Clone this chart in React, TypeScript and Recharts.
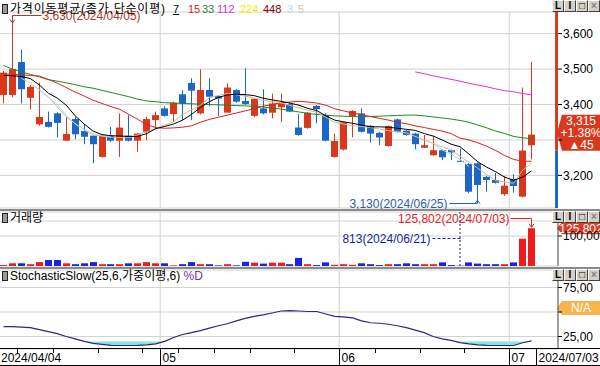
import React from "react";
import {
  ComposedChart,
  Bar,
  Line,
  Area,
  XAxis,
  YAxis,
  CartesianGrid,
  ReferenceLine,
  ReferenceDot,
  ReferenceArea,
} from "recharts";

const dates = [
  "2024/04/04", "2024/04/05", "2024/04/08", "2024/04/09", "2024/04/11", "2024/04/12", "2024/04/15", "2024/04/16",
  "2024/04/17", "2024/04/18", "2024/04/19", "2024/04/22", "2024/04/23", "2024/04/24", "2024/04/25", "2024/04/26",
  "2024/04/29", "2024/04/30", "2024/05/02", "2024/05/03", "2024/05/07", "2024/05/08", "2024/05/09", "2024/05/10",
  "2024/05/13", "2024/05/14", "2024/05/16", "2024/05/17", "2024/05/20", "2024/05/21", "2024/05/22", "2024/05/23",
  "2024/05/24", "2024/05/27", "2024/05/28", "2024/05/29", "2024/05/30", "2024/05/31", "2024/06/03", "2024/06/04",
  "2024/06/05", "2024/06/07", "2024/06/10", "2024/06/11", "2024/06/12", "2024/06/13", "2024/06/14", "2024/06/17",
  "2024/06/18", "2024/06/19", "2024/06/20", "2024/06/21", "2024/06/24", "2024/06/25", "2024/06/26", "2024/06/27",
  "2024/06/28", "2024/07/01", "2024/07/02", "2024/07/03",
];

const opens = [
  3427, 3427, 3520, 3419, 3344, 3351, 3375, 3298, 3359, 3325, 3312, 3252, 3312, 3298, 3312, 3298,
  3323, 3356, 3389, 3373, 3429, 3461, 3375, 3441, 3424, 3377, 3441, 3410, 3368, 3389, 3377, 3392,
  3401, 3335, 3334, 3396, 3370, 3252, 3273, 3367, 3375, 3340, 3320, 3283, 3358, 3326, 3318, 3278,
  3257, 3271, 3271, 3241, 3232, 3234, 3196, 3187, 3147, 3190, 3140, 3285,
];
const highs = [
  3495, 3630, 3555, 3455, 3462, 3380, 3378, 3365, 3365, 3345, 3313, 3315, 3337, 3375, 3370, 3320,
  3365, 3380, 3395, 3408, 3441, 3474, 3499, 3474, 3426, 3460, 3443, 3502, 3418, 3443, 3431, 3431,
  3405, 3373, 3379, 3398, 3375, 3318, 3352, 3384, 3389, 3342, 3322, 3341, 3360, 3328, 3320, 3314,
  3312, 3273, 3273, 3276, 3234, 3236, 3198, 3207, 3198, 3203, 3448, 3520,
];
const lows = [
  3403, 3420, 3403, 3386, 3340, 3335, 3307, 3298, 3302, 3288, 3234, 3250, 3295, 3252, 3296, 3267,
  3300, 3333, 3366, 3351, 3356, 3356, 3372, 3395, 3368, 3377, 3405, 3399, 3365, 3372, 3361, 3351,
  3378, 3312, 3332, 3347, 3296, 3250, 3270, 3307, 3321, 3293, 3285, 3281, 3321, 3312, 3274, 3277,
  3255, 3243, 3243, 3240, 3149, 3130, 3154, 3177, 3142, 3151, 3138, 3245,
];
const closes = [
  3490, 3500, 3443, 3450, 3365, 3337, 3348, 3317, 3316, 3309, 3288, 3312, 3298, 3335, 3298, 3318,
  3359, 3370, 3368, 3405, 3403, 3439, 3441, 3422, 3417, 3448, 3408, 3401, 3416, 3375, 3403, 3403,
  3380, 3314, 3377, 3387, 3298, 3297, 3350, 3382, 3323, 3318, 3307, 3339, 3323, 3314, 3288, 3285,
  3271, 3251, 3265, 3240, 3154, 3173, 3187, 3179, 3171, 3170, 3270, 3315,
];
const volumes = [
  3000, 9000, 9000, 6000, 13000, 20000, 20000, 9000, 6000, 9000, 13000, 6000, 6000, 6000, 9000, 9000,
  13000, 9000, 9000, 2000, 6000, 13000, 6000, 6000, 2000, 6000, 2000, 14000, 11000, 8000, 11000, 11000,
  6000, 27000, 6000, 3000, 12000, 4000, 6000, 4000, 9000, 6000, 3000, 6000, 6000, 9000, 6000, 6000,
  6000, 12000, 3000, 813, 12000, 8000, 6000, 6000, 6000, 12000, 91000, 125802,
];

// moving averages as drawn on the chart (7 / 15 / 33 / 112 / 3 / 5)
const ma7 = [
  3482, 3481, 3479, 3473, 3455, 3432, 3418, 3398, 3368, 3345, 3325, 3315, 3312, 3311, 3310, 3310,
  3318, 3332, 3338, 3345, 3356, 3372, 3392, 3408, 3420, 3427, 3429, 3428, 3425, 3418, 3413, 3409,
  3404, 3398, 3389, 3383, 3368, 3356, 3351, 3347, 3342, 3337, 3337, 3336, 3333, 3330, 3327, 3318,
  3311, 3300, 3288, 3281, 3260, 3238, 3223, 3210, 3195, 3186, 3195, 3213,
];
const ma15 = [
  3486, 3485, 3484, 3482, 3480, 3471, 3460, 3448, 3435, 3424, 3412, 3403, 3394, 3386, 3372, 3358,
  3343, 3335, 3333, 3334, 3336, 3340, 3350, 3358, 3364, 3370, 3376, 3382, 3388, 3395, 3400, 3405,
  3407, 3409, 3407, 3404, 3398, 3388, 3382, 3376, 3371, 3366, 3361, 3356, 3350, 3346, 3340, 3335,
  3330, 3325, 3318, 3305, 3300, 3292, 3282, 3270, 3256, 3245, 3240, 3240,
];
const ma33 = [
  3510, 3500, 3492, 3485, 3478, 3470, 3466, 3461, 3456, 3450, 3446, 3440, 3434, 3428, 3422, 3415,
  3410, 3408, 3405, 3404, 3403, 3402, 3401, 3400, 3399, 3398, 3397, 3396, 3395, 3393, 3390, 3387,
  3383, 3379, 3375, 3372, 3370, 3368, 3367, 3366, 3365, 3366, 3367, 3368, 3369, 3370, 3370, 3368,
  3365, 3362, 3359, 3355, 3350, 3342, 3334, 3325, 3318, 3310, 3306, 3304,
];
const ma112 = [
  null, null, null, null, null, null, null, null, null, null, null, null, null, null, null, null,
  null, null, null, null, null, null, null, null, null, null, null, null, null, null, null, null,
  null, null, null, null, null, null, null, null, null, null, null, null, null, null, 3492, 3487,
  3481, 3476, 3471, 3466, 3460, 3455, 3450, 3444, 3439, 3436, 3431, 3427,
];
const ma3 = [
  null, null, 3474, 3460, 3441, 3420, 3400, 3370, 3345, 3330, 3318, 3312, 3308, null, null, null,
  null, null, null, null, null, null, null, null, null, null, null, null, null, null, null, null,
  null, null, null, null, null, null, null, null, null, null, null, null, null, null, null, null,
  3290, 3272, 3260, 3245, 3225, null, null, null, null, null, null, null,
];
const ma5 = [
  null, null, null, 3460, null, 3422, null, 3365, null, 3328, 3314, null, 3308, null, 3306, null,
  3323, null, null, 3351, 3372, null, 3398, 3420, null, 3431, null, 3424, null, 3412, null, 3405,
  null, 3390, null, 3378, null, 3350, null, 3340, null, 3335, null, 3326, null, 3320, null, 3300,
  null, null, 3271, null, null, 3220, null, 3185, null, 3178, 3215, 3234,
];

const stochD = [
  35, 35, 34.5, 34, 32, 30, 28, 25, 22.5, 20, 18, 17, 16, 15.8, 15.8, 16,
  16.5, 17.5, 20, 24, 27, 29, 31, 33.5, 36, 38, 41, 43.5, 45.5, 47, 49, 51,
  51.5, 51, 50.5, 50.5, 48, 45.5, 45, 44, 41, 39, 38.5, 37.5, 36, 34, 31.5, 29,
  25, 22.5, 21, 18.8, 17.5, 16.5, 16, 15.8, 15.8, 15.8, 18.6, 20.6,
];

const priceTicks = [3200, 3300, 3400, 3500, 3600];
const volumeTicks = [50000, 100000, 150000];
const stochTicks = [25, 50, 75];
const maLegend = [
  { label: "7", color: "#000000", left: 173 },
  { label: "15", color: "#e0201e", left: 188 },
  { label: "33", color: "#1d8a1d", left: 202 },
  { label: "112", color: "#e030e0", left: 217 },
  { label: "224", color: "#f0f000", left: 240 },
  { label: "448", color: "#800000", left: 263 },
  { label: "3", color: "#a8dcec", left: 287 },
  { label: "5", color: "#dcc4a4", left: 298 },
];

const X_DOMAIN: [number, number] = [-0.4, 61.95];
const PRICE_DOMAIN: [number, number] = [3108, 3661];
const UP = "#d9381c";
const DOWN = "#1b66c6";
const VOL_UP = "#ee1c1c";
const VOL_DOWN = "#1c22e4";
const GRID = "#d2d2d2";
const SANS = "'Liberation Sans', Arial, sans-serif";
const KR = "'Liberation Sans', 'Noto Sans CJK KR', sans-serif";

const fmt = (v: number) => String(v).replace(/\B(?=(\d{3})+(?!\d))/g, ",");

const rows = dates.map((date, i) => ({
  i,
  date,
  open: opens[i],
  high: highs[i],
  low: lows[i],
  close: closes[i],
  range: [lows[i], highs[i]],
  volume: volumes[i],
  ma3: ma3[i],
  ma5: ma5[i],
  ma7: ma7[i],
  ma15: ma15[i],
  ma33: ma33[i],
  ma112: ma112[i],
  stoch: stochD[i],
  stochBand: [Math.min(stochD[i], 20), 20],
}));

const days = dates.map((d) => new Date(d.replace(/\//g, "-") + "T00:00:00Z").getUTCDay());
const monthStarts = dates
  .map((_, i) => i)
  .filter((i) => i > 0 && dates[i].slice(5, 7) !== dates[i - 1].slice(5, 7))
  .map((i) => i - 0.5);
const weekStarts = dates
  .map((_, i) => i)
  .filter((i) => i > 0 && days[i] < days[i - 1])
  .map((i) => i - 0.5);
const last = dates.length - 1;
const dateTicks = [X_DOMAIN[0], ...Array.from(new Set([...weekStarts, ...monthStarts])).sort((a, b) => a - b), last + 0.5];

const hiIdx = highs.indexOf(Math.max(...highs));
const loIdx = lows.indexOf(Math.min(...lows));
const vMaxIdx = volumes.indexOf(Math.max(...volumes));
const vMinIdx = volumes.indexOf(Math.min(...volumes));
const prevClose = closes[last - 1];
const change = closes[last] - prevClose;
const pct = ((change / prevClose) * 100).toFixed(2);

function Candle(props: any) {
  const { x, y, width, height, payload } = props;
  if (!payload || height == null) return null;
  const { open, close, high, low } = payload;
  const color = close >= open ? UP : DOWN;
  const k = height / (high - low);
  const top = y + (high - Math.max(open, close)) * k;
  const bot = y + (high - Math.min(open, close)) * k;
  const cx = Math.floor(x + width / 2) + 0.5;
  return (
    <g>
      <line x1={cx} x2={cx} y1={y} y2={y + height} stroke={color} strokeWidth={1} />
      <rect x={Math.round(x)} y={top} width={Math.round(width)} height={Math.max(1, bot - top)} fill={color} />
    </g>
  );
}

function VolBar(props: any) {
  const { x, y, width, height, payload } = props;
  if (!payload) return null;
  const color = payload.close >= payload.open ? VOL_UP : VOL_DOWN;
  return <rect x={Math.round(x)} y={y} width={Math.round(width)} height={Math.max(0, height)} fill={color} />;
}

const center = (vb: any) => ({ cx: vb.x + vb.width / 2, cy: vb.y + vb.height / 2 });

function HighNote(p: any) {
  const { cx, cy } = center(p.viewBox);
  const c = "#b03a2a";
  const lx = Math.floor(cx) + 0.5;
  const ly = Math.round(cy) - 7.5;
  return (
    <g>
      <path d={`M${lx + 29},${ly} H${lx} V${cy}`} stroke={c} fill="none" />
      <path d={`M${lx - 2.5},${cy - 3.5} L${lx},${cy} L${lx + 2.5},${cy - 3.5}`} stroke={c} fill="none" />
      <text x={lx + 30} y={ly + 4.5} fill={c} fontSize={12} fontFamily={SANS}>
        {`${fmt(highs[hiIdx])}(${dates[hiIdx]})`}
      </text>
    </g>
  );
}

function LowNote(p: any) {
  const { cx, cy } = center(p.viewBox);
  const c = "#2c5cb4";
  const lx = Math.floor(cx) + 0.5;
  const ly = Math.round(cy) + 3.5;
  return (
    <g>
      <path d={`M${lx - 28},${ly} H${lx} V${cy}`} stroke={c} fill="none" />
      <path d={`M${lx - 2.5},${cy + 3.5} L${lx},${cy} L${lx + 2.5},${cy + 3.5}`} stroke={c} fill="none" />
      <text x={lx - 30} y={ly + 4} fill={c} fontSize={12} fontFamily={SANS} textAnchor="end">
        {`${fmt(lows[loIdx])}(${dates[loIdx]})`}
      </text>
    </g>
  );
}

function VolMaxNote(p: any) {
  const { cx, cy } = center(p.viewBox);
  const c = "#e02424";
  const lx = Math.floor(cx) + 0.5;
  const ly = Math.round(cy) - 9.5;
  return (
    <g>
      <path d={`M${lx - 21},${ly} H${lx} V${cy - 1}`} stroke={c} fill="none" />
      <path d={`M${lx - 2.5},${cy - 4.5} L${lx},${cy - 1} L${lx + 2.5},${cy - 4.5}`} stroke={c} fill="none" />
      <text x={lx - 22} y={ly + 4.5} fill={c} fontSize={12} fontFamily={SANS} textAnchor="end">
        {`${fmt(volumes[vMaxIdx])}(${dates[vMaxIdx]})`}
      </text>
    </g>
  );
}

function VolMinNote(p: any) {
  const { cx, cy } = center(p.viewBox);
  const c = "#1c1ca8";
  const lx = Math.floor(cx) + 0.5;
  const ly = Math.round(cy) - 27.5;
  return (
    <g>
      <path d={`M${lx - 28},${ly} H${lx}`} stroke={c} strokeDasharray="3 2" fill="none" />
      <text x={lx - 30} y={ly + 4.5} fill={c} fontSize={12} fontFamily={SANS} textAnchor="end">
        {`${fmt(volumes[vMinIdx])}(${dates[vMinIdx]})`}
      </text>
    </g>
  );
}

function Tag(p: any, color: string, lines: string[], half: number, dy = 0) {
  const vb = p.viewBox;
  const x0 = vb.x + vb.width - 1;
  const y = vb.y + dy;
  const pts = `${x0},${y} ${x0 + 5},${y - half} 600,${y - half} 600,${y + half} ${x0 + 5},${y + half}`;
  const step = 12;
  const start = y - ((lines.length - 1) * step) / 2;
  return (
    <g>
      <polygon points={pts} fill={color} />
      {lines.map((t, k) => (
        <text key={k} x={581} y={start + k * step + 4.5} fill="#fff" fontSize={12} fontFamily={SANS} textAnchor="middle">
          {t}
        </text>
      ))}
    </g>
  );
}

function DateTick(props: any) {
  const { x, y, payload } = props;
  const v = payload.value;
  const px = Math.round(x) + 0.5;
  const style = { fontSize: 12, fontFamily: SANS, fill: "#000" };
  if (v <= X_DOMAIN[0]) {
    return (
      <text x={1} y={y + 13} {...style}>
        {dates[0]}
      </text>
    );
  }
  if (v === last + 0.5) {
    return (
      <g>
        <line x1={px} x2={px} y1={y} y2={y + 17} stroke="#000" />
        <text x={px + 2} y={y + 13} {...style}>
          {dates[last]}
        </text>
      </g>
    );
  }
  if (monthStarts.includes(v)) {
    const idx = v + 0.5;
    return (
      <g>
        <line x1={px} x2={px} y1={y} y2={y + 17} stroke="#000" />
        <text x={px + 2} y={y + 13} {...style}>
          {dates[idx].slice(5, 7)}
        </text>
      </g>
    );
  }
  return <line x1={px} x2={px} y1={y} y2={y + 4} stroke="#000" />;
}

function Buttons({ top }: { top: number }) {
  const glyphs = ["L", "I", "□", "×"];
  return (
    <div style={{ position: "absolute", left: 552, top, display: "flex" }}>
      {glyphs.map((g, k) => (
        <div
          key={k}
          style={{
            width: 10,
            height: 10,
            border: "1px solid",
            borderColor: "#ffffff #404040 #404040 #ffffff",
            background: "#d4d0c8",
            fontSize: 10,
            lineHeight: "10px",
            textAlign: "center",
            fontFamily: SANS,
            fontWeight: "bold",
            color: k === 3 ? "#808080" : "#000",
          }}
        >
          {g}
        </div>
      ))}
    </div>
  );
}

const Icon = () => (
  <span
    style={{
      display: "inline-block",
      width: 4,
      height: 8,
      background: "#9a9a9a",
      border: "1px solid #222",
      marginRight: 2,
      verticalAlign: -1,
    }}
  />
);

const titleStyle: React.CSSProperties = {
  position: "absolute",
  left: 2,
  fontSize: 12,
  fontFamily: KR,
  color: "#000",
  whiteSpace: "nowrap",
  lineHeight: "14px",
};

const tickStyle = { fill: "#000", fontSize: 12, fontFamily: SANS };

export default function App() {
  return (
    <div style={{ position: "absolute", left: 0, top: 0, width: 600, height: 366, background: "#fff", overflow: "hidden" }}>
      {/* price panel */}
      <div style={{ position: "absolute", left: 0, top: 0 }}>
        <ComposedChart width={600} height={210} data={rows} margin={{ top: 12, right: 0, bottom: 2, left: 0 }}>
          <CartesianGrid vertical={false} stroke={GRID} />
          <XAxis dataKey="i" type="number" domain={X_DOMAIN} allowDataOverflow hide />
          <YAxis
            orientation="right"
            width={42}
            domain={PRICE_DOMAIN}
            allowDataOverflow
            ticks={priceTicks}
            axisLine={false}
            tickLine={{ stroke: "#000" }}
            tickSize={4}
            tickMargin={1}
            tick={tickStyle}
            tickFormatter={(v: number) => (v === 3300 ? "" : fmt(v))}
          />
          {monthStarts.map((m) => (
            <ReferenceLine key={m} x={m} stroke={GRID} />
          ))}
          <ReferenceArea x1={61.62} x2={X_DOMAIN[1]} y1={prevClose} y2={PRICE_DOMAIN[1]} fill={UP} fillOpacity={1} stroke="none" />
          <ReferenceArea x1={61.62} x2={X_DOMAIN[1]} y1={PRICE_DOMAIN[0]} y2={prevClose} fill={DOWN} fillOpacity={1} stroke="none" />
          <Bar dataKey="range" barSize={7} shape={(p: any) => <Candle {...p} />} isAnimationActive={false} />
          <Line dataKey="ma33" stroke="#1d8a1d" strokeWidth={1} dot={false} isAnimationActive={false} />
          <Line dataKey="ma112" stroke="#e030e0" strokeWidth={1} dot={false} isAnimationActive={false} />
          <Line dataKey="ma15" stroke="#e0201e" strokeWidth={1} dot={false} isAnimationActive={false} />
          <Line dataKey="ma5" stroke="#d8b890" strokeWidth={1} dot={false} connectNulls isAnimationActive={false} />
          <Line dataKey="ma3" stroke="#a8dcec" strokeWidth={1} dot={false} isAnimationActive={false} />
          <Line dataKey="ma7" stroke="#000000" strokeWidth={1} dot={false} isAnimationActive={false} />
          <ReferenceDot x={hiIdx} y={highs[hiIdx]} r={1} fill="none" stroke="none" label={HighNote} />
          <ReferenceDot x={loIdx} y={lows[loIdx]} r={1} fill="none" stroke="none" label={LowNote} />
          <ReferenceLine
            y={closes[last]}
            stroke="none"
            label={(p: any) => Tag(p, UP, [fmt(closes[last]), `+${pct}%`, `▲${change}`], 18, -2)}
          />
        </ComposedChart>
      </div>
      <div style={{ ...titleStyle, top: 2 }}>
        <Icon />
        <span style={{ letterSpacing: 0.8 }}>가격이동평균(종가,단순이평)</span>
      </div>
      {maLegend.map((m) => (
        <span
          key={m.label + m.left}
          style={{
            position: "absolute",
            top: 2,
            left: m.left,
            color: m.color,
            fontSize: 11,
            fontFamily: SANS,
            lineHeight: "14px",
            textDecoration: m.label === "7" ? "underline" : "none",
          }}
        >
          {m.label}
        </span>
      ))}
      <Buttons top={0} />

      <div style={{ position: "absolute", left: 0, top: 209, width: 600, height: 2, background: "#8a8a8a" }} />

      {/* volume panel */}
      <div style={{ position: "absolute", left: 0, top: 211 }}>
        <ComposedChart width={600} height={56} data={rows} margin={{ top: 1, right: 0, bottom: 1, left: 0 }}>
          <CartesianGrid vertical={false} stroke={GRID} />
          <XAxis dataKey="i" type="number" domain={X_DOMAIN} allowDataOverflow hide />
          <YAxis
            orientation="right"
            width={42}
            domain={[0, 180000]}
            allowDataOverflow
            ticks={volumeTicks}
            axisLine={{ stroke: "#404040" }}
            tickLine={{ stroke: "#000" }}
            tickSize={4}
            tickMargin={1}
            tick={tickStyle}
            tickFormatter={(v: number) => (v > 120000 ? "" : fmt(v))}
          />
          {monthStarts.map((m) => (
            <ReferenceLine key={m} x={m} stroke={GRID} />
          ))}
          <ReferenceLine x={vMinIdx} stroke="#1c1ca8" strokeDasharray="2 2" />
          <Bar dataKey="volume" barSize={7} shape={(p: any) => <VolBar {...p} />} isAnimationActive={false} />
          <ReferenceDot x={vMaxIdx} y={volumes[vMaxIdx]} r={1} fill="none" stroke="none" label={VolMaxNote} />
          <ReferenceDot x={vMinIdx} y={volumes[vMinIdx]} r={1} fill="none" stroke="none" label={VolMinNote} />
          <ReferenceLine y={volumes[vMaxIdx]} stroke="none" label={(p: any) => Tag(p, "#e03a22", [fmt(volumes[vMaxIdx])], 6)} />
        </ComposedChart>
      </div>
      <div style={{ ...titleStyle, top: 211 }}>
        <Icon />
        거래량
      </div>
      <Buttons top={211} />

      <div style={{ position: "absolute", left: 0, top: 267, width: 600, height: 2, background: "#8a8a8a" }} />

      {/* stochastic panel + date axis */}
      <div style={{ position: "absolute", left: 0, top: 269 }}>
        <ComposedChart width={600} height={97} data={rows} margin={{ top: 1, right: 0, bottom: 0, left: 0 }}>
          <CartesianGrid vertical={false} stroke={GRID} />
          <XAxis
            dataKey="i"
            type="number"
            domain={X_DOMAIN}
            allowDataOverflow
            height={17}
            ticks={dateTicks}
            interval={0}
            axisLine={false}
            tickLine={false}
            tickSize={0}
            tickMargin={0}
            tick={(p: any) => <DateTick {...p} />}
          />
          <YAxis
            orientation="right"
            width={42}
            domain={[12.24, 92.86]}
            allowDataOverflow
            ticks={stochTicks}
            axisLine={{ stroke: "#404040" }}
            tickLine={{ stroke: "#000" }}
            tickSize={4}
            tickMargin={1}
            tick={tickStyle}
            tickFormatter={(v: number) => (v === 50 ? "" : v.toFixed(2).replace(".", ","))}
          />
          {monthStarts.map((m) => (
            <ReferenceLine key={m} x={m} stroke={GRID} />
          ))}
          <Area dataKey="stochBand" stroke="none" fill="#7eeadb" fillOpacity={1} isAnimationActive={false} />
          <Line dataKey="stoch" stroke="#3c2080" strokeWidth={1.2} dot={false} isAnimationActive={false} />
          <ReferenceLine y={50} stroke="none" label={(p: any) => Tag(p, "#f7b44c", ["N/A"], 7, -4)} />
        </ComposedChart>
      </div>
      <div style={{ ...titleStyle, top: 269 }}>
        <Icon />
        StochasticSlow(25,6,가중이평,6) <span style={{ color: "#6a35a8" }}>%D</span>
      </div>
      <Buttons top={269} />
      <div style={{ position: "absolute", left: 0, top: 348, width: 600, height: 1, background: "#000" }} />
      <div style={{ position: "absolute", left: 0, top: 365, width: 600, height: 1, background: "#000" }} />
    </div>
  );
}
